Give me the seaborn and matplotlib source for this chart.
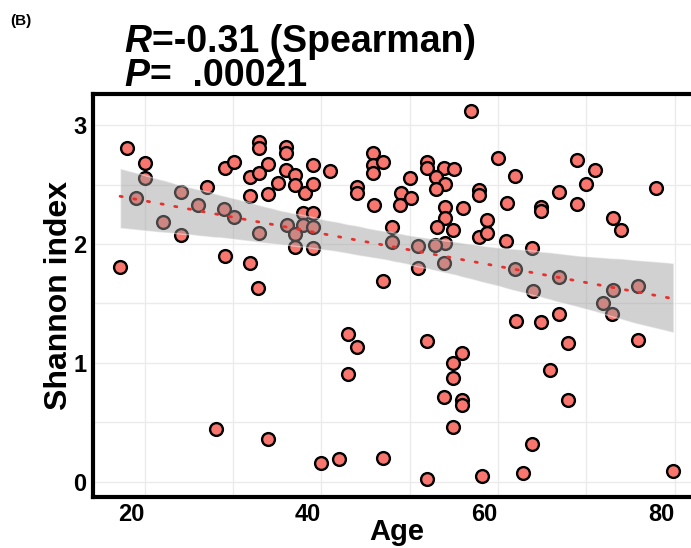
import matplotlib
matplotlib.use("Agg")
import matplotlib.pyplot as plt
import seaborn as sns
import numpy as np
import pandas as pd

# Subject age (years) and gut microbiome Shannon diversity
age = [
    18.05, 20.06, 20.06, 19.0, 17.23, 22.13, 24.13, 24.13, 26.09, 27.11,
    29.11, 30.17, 29.03, 30.17, 29.11, 31.94, 33.0, 33.0, 36.02, 36.02,
    34.02, 31.94, 33.0, 36.02, 35.08, 31.94, 34.02, 33.0, 36.1, 32.88,
    56.96, 37.04, 37.04, 38.17, 39.04, 39.04, 41.0, 37.98, 39.04, 37.98,
    39.04, 37.04, 37.04, 39.04, 45.9, 45.9, 47.03, 45.9, 44.02, 44.02,
    46.02, 47.99, 47.99, 47.03, 50.06, 49.0, 50.14, 48.93, 51.95, 51.95,
    53.94, 55.04, 53.0, 54.02, 53.0, 54.02, 56.02, 54.02, 53.08, 54.96,
    54.02, 52.89, 51.0, 51.0, 53.94, 57.9, 57.9, 58.74, 57.9, 58.74,
    60.05, 61.94, 61.0, 64.89, 64.89, 66.96, 68.93, 71.0, 69.98, 68.93,
    77.91, 73.0, 73.94, 60.93, 63.9, 61.94, 66.96, 63.98, 73.0, 75.9,
    71.94, 72.96, 75.9, 62.02, 64.89, 66.93, 67.91, 65.91, 67.91, 63.9,
    62.88, 58.17, 79.87, 43.0, 44.02, 43.0, 51.95, 55.98, 54.96, 54.96,
    53.91, 55.98, 55.98, 54.96, 39.98, 42.02, 46.97, 51.95, 28.06, 34.02,
]
shannon = [
    2.806, 2.680, 2.554, 2.386, 1.805, 2.184, 2.441, 2.077, 2.329, 2.478,
    2.638, 2.694, 2.295, 2.231, 1.902, 1.843, 2.862, 2.806, 2.820, 2.764,
    2.674, 2.562, 2.596, 2.624, 2.512, 2.405, 2.422, 2.091, 2.161, 1.628,
    3.120, 2.580, 2.497, 2.428, 2.666, 2.506, 2.615, 2.259, 2.264, 2.161,
    2.146, 2.085, 1.978, 1.965, 2.769, 2.666, 2.694, 2.596, 2.483, 2.428,
    2.329, 2.141, 2.020, 1.692, 2.554, 2.428, 2.386, 2.329, 2.694, 2.638,
    2.643, 2.632, 2.562, 2.506, 2.464, 2.310, 2.301, 2.217, 2.141, 2.119,
    2.007, 1.992, 1.984, 1.796, 1.843, 2.455, 2.413, 2.203, 2.062, 2.091,
    2.727, 2.573, 2.343, 2.310, 2.281, 2.436, 2.708, 2.624, 2.503, 2.338,
    2.475, 2.222, 2.119, 2.026, 1.965, 1.788, 1.726, 1.605, 1.609, 1.643,
    1.502, 1.409, 1.193, 1.353, 1.347, 1.409, 1.165, 0.940, 0.688, 0.315,
    0.076, 0.048, 0.093, 1.243, 1.136, 0.904, 1.184, 1.086, 1.002, 0.870,
    0.710, 0.688, 0.646, 0.458, 0.155, 0.189, 0.202, 0.020, 0.441, 0.357,
]
x_ticks = [20, 40, 60, 80]
y_ticks = [0, 1, 2, 3]
corr_r = "-0.31"
corr_p = ".00021"

df = pd.DataFrame({"Age": age, "Shannon": shannon})

sns.set_theme(style="white")
plt.rcParams["font.family"] = ["Liberation Sans", "DejaVu Sans"]
plt.rcParams["text.color"] = "black"
plt.rcParams["axes.labelcolor"] = "black"
plt.rcParams["xtick.color"] = "black"
plt.rcParams["ytick.color"] = "black"

W, H = 691, 548
fig = plt.figure(figsize=(W / 100, H / 100), dpi=100)
# panel (right border falls just outside the canvas)
ax = fig.add_axes([93.3 / W, 1 - 496.5 / H, (701 - 93.3) / W, (496.5 - 94) / H])

sns.regplot(
    data=df, x="Age", y="Shannon", ax=ax, ci=95, seed=7,
    scatter_kws=dict(s=85, facecolor="#F8766D", edgecolor="black",
                     linewidths=1.7, alpha=1, zorder=2),
    line_kws=dict(color="#e8302c", linewidth=2.0, linestyle=(0, (0.8, 4.2)),
                  dash_capstyle="round", zorder=4),
)
band = ax.collections[-1]
band.set_facecolor("#9a9a9a")
band.set_alpha(0.45)
band.set_zorder(3)

ax.set_xlim(14.2, 83.0)
ax.set_ylim(-0.125, 3.263)
ax.set_xticks(x_ticks)
ax.set_yticks(y_ticks)
ax.set_xticks([30, 50, 70], minor=True)
ax.set_yticks([0.5, 1.5, 2.5], minor=True)
ax.grid(True, which="both", color="#ebebeb", linewidth=1.0, zorder=0)
ax.set_axisbelow(True)

for lab in ax.get_xticklabels():
    lab.set_horizontalalignment("right")
ax.tick_params(axis="both", which="both", length=0, labelsize=17,
               labelcolor="black")
ax.tick_params(axis="x", pad=5)
ax.tick_params(axis="y", pad=5)
for lab in ax.get_xticklabels() + ax.get_yticklabels():
    lab.set_fontweight("bold")

for name, sp in ax.spines.items():
    sp.set_visible(name != "right")
    sp.set_color("black")
    sp.set_linewidth(3.0)

ax.set_xlabel("Age", fontsize=21, fontweight="bold", labelpad=-6)
ax.set_ylabel("Shannon index", fontsize=23, fontweight="bold", labelpad=-1)

# panel tag
fig.text(10 / W, 1 - 25 / H, "(B)", fontsize=11, fontweight="bold")

# correlation annotation: italic statistic symbol followed by value
fig.canvas.draw()
renderer = fig.canvas.get_renderer()


def stat_line(x_px, base_px, sym, rest, size):
    t1 = fig.text(x_px / W, 1 - base_px / H, sym, fontsize=size,
                  fontweight="bold", fontstyle="italic", va="baseline")
    bb = t1.get_window_extent(renderer)
    fig.text(bb.x1 / W + 1 / W, 1 - base_px / H, rest, fontsize=size,
             fontweight="bold", va="baseline")


stat_line(124, 52, "R", "=" + corr_r + " (Spearman)", 27)
stat_line(124, 86, "P", "=  " + corr_p, 27)

fig.savefig("out.png", dpi=100)
